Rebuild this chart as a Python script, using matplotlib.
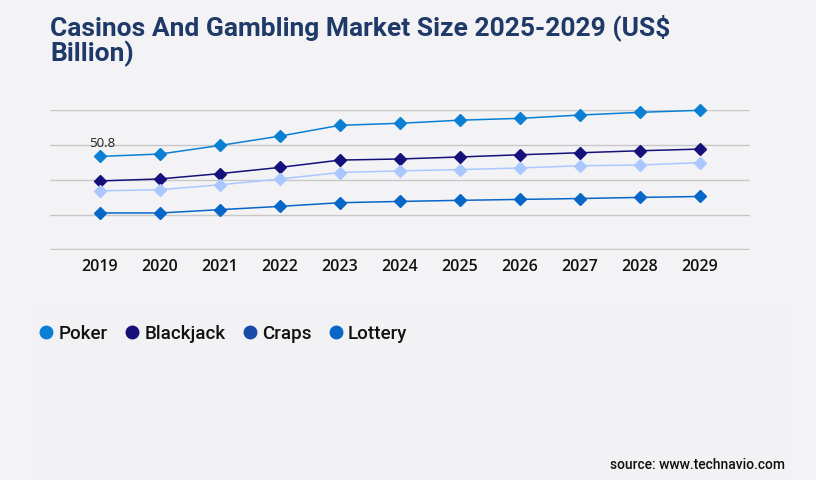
import matplotlib
matplotlib.use("Agg")
import matplotlib.pyplot as plt
from matplotlib.lines import Line2D
from matplotlib.patches import Rectangle
from matplotlib.ticker import MultipleLocator

years = [2019, 2020, 2021, 2022, 2023, 2024, 2025, 2026, 2027, 2028, 2029]
poker = [50.8, 52.1, 56.8, 61.9, 67.8, 68.9, 70.6, 71.6, 73.4, 74.9, 76.0]
blackjack = [37.4, 38.5, 41.4, 44.8, 48.8, 49.4, 50.5, 51.7, 52.8, 53.9, 54.8]
craps = [32.0, 32.6, 35.3, 38.5, 42.0, 42.9, 43.6, 44.5, 45.7, 46.1, 47.4]
lottery = [19.9, 19.9, 21.7, 23.5, 25.5, 26.2, 26.8, 27.3, 27.8, 28.4, 28.9]
series_names = ["Poker", "Blackjack", "Craps", "Lottery"]
series_values = [poker, blackjack, craps, lottery]
line_colors = ["#0a7fd4", "#16107a", "#aac8ff", "#0866c9"]
legend_colors = ["#0a7fd4", "#16107a", "#1a4aa8", "#0866c9"]

title = "Casinos And Gambling Market Size 2025-2029 (US$\nBillion)"
source = "source: www.technavio.com"

bg = "#f3f3f5"
fig = plt.figure(figsize=(8.16, 4.8), dpi=100, facecolor=bg)
fig.patches.append(Rectangle((30/816, 0), 762/816, 180/480, transform=fig.transFigure,
                             facecolor="#f2f2f4", edgecolor="none", zorder=0))

ax = fig.add_axes([50/816, 1-250.3/480, 700/816, 140/480])
ax.set_facecolor("none")
for name, vals, c in zip(series_names, series_values, line_colors):
    ax.plot(years, vals, color=c, lw=1.1, marker="D", markersize=6.5,
            markerfacecolor=c, markeredgecolor=c, clip_on=False, zorder=3)

ax.set_xlim(2019 - 50/60, 2029 + 50/60)
ax.set_ylim(-0.5, 76)
ax.yaxis.set_major_locator(MultipleLocator(19))
ax.grid(axis="y", color="#c8c8c8", lw=1)
ax.set_axisbelow(True)
for s in ax.spines.values():
    s.set_visible(False)
ax.tick_params(axis="y", left=False, labelleft=False)
ax.tick_params(axis="x", length=0, pad=6)
ax.set_xticks(years)
ax.set_xticklabels([str(y) for y in years], fontsize=11.5, color="#111111",
                   family="Open Sans", fontweight="semibold")

ax.annotate(f"{poker[0]}", (years[0], poker[0]), xytext=(-8, 7), textcoords="offset points",
            fontsize=9.5, color="#222222", family="Open Sans")

fig.text(50/816, 1-14/480, title, fontsize=19.0, color="#1f3a68", family="Roboto",
         fontweight="bold", va="top", ha="left", linespacing=1.0)

handles = [Line2D([], [], marker="o", ls="none", markersize=9, markerfacecolor=c,
                  markeredgecolor=c) for c in legend_colors]
leg = fig.legend(handles, series_names, loc="center left", bbox_to_anchor=(20/816, 1-334/480),
                 ncol=4, frameon=False, handletextpad=0.15, columnspacing=0.8, handlelength=1.0,
                 prop={"family": "Roboto", "size": 13.5, "weight": "medium"})
for t in leg.get_texts():
    t.set_color("#111111")

fig.text(785/816, 1-465/480, source, fontsize=10, family="Roboto", fontweight="medium",
         ha="right", va="center", color="#111111")

fig.savefig("out.png", dpi=100, facecolor=bg)
